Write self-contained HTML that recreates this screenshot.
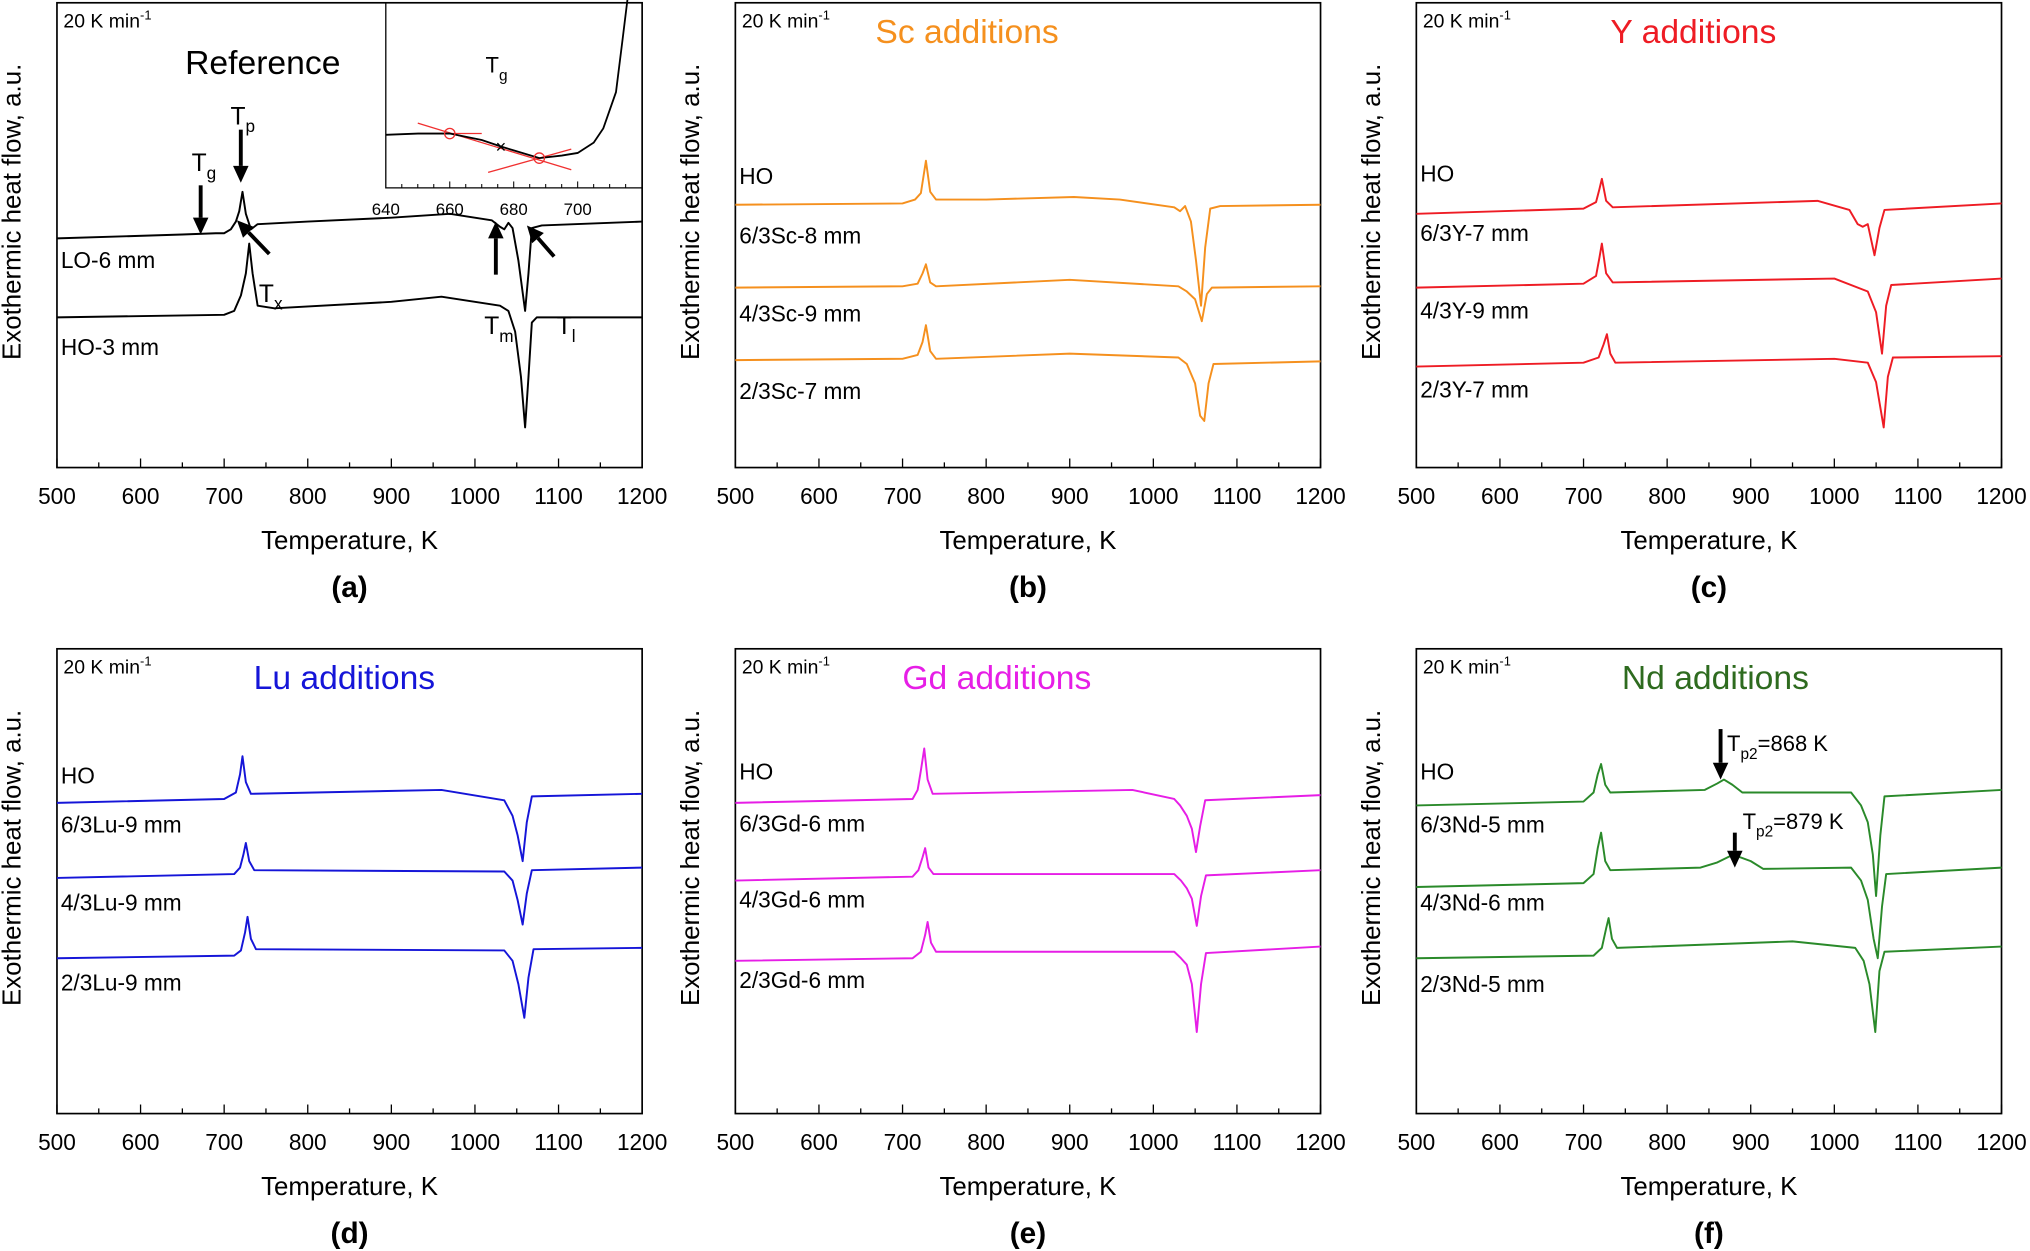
<!DOCTYPE html>
<html><head><meta charset="utf-8"><style>
html,body{margin:0;padding:0;background:#fff}
svg{display:block}
text{font-family:"Liberation Sans",sans-serif}
</style></head><body>
<svg id="fig" width="2030" height="1251" viewBox="0 0 1568 966" xmlns="http://www.w3.org/2000/svg"></svg>
<script>
// ---- data (temperature K, heat flow a.u. measured upward from frame bottom) ----
const xTicks = [500,600,700,800,900,1000,1100,1200];
const insetTicks = [640,660,680,700];

const aLO_T = [500,650,690,700,708,714,718,722,726,732,740,800,900,970,1020,1030,1035,1040,1045,1052,1060,1064,1068,1080,1200];
const aLO_V = [177,180,181,181,184,190,198,213,196,184,188,190,193,196,191,186,184,189,185,160,121,150,185,187,190];
const aHO_T = [500,700,712,720,726,730,734,740,760,900,960,1030,1040,1048,1055,1060,1064,1068,1074,1200];
const aHO_V = [116,118,121,133,150,173,150,125,123,128,132,125,121,105,70,31,70,112,116,116];
const inT = [640,650,660,670,676,680,688,695,700,705,708,712,714,716,718];
const inV = [57,58,58,53,48,45,39,41,43,51,62,90,130,170,210];

const bSeries = [
 {name:'HO', T:[500,700,715,722,728,733,740,800,905,960,1025,1032,1038,1045,1051,1057,1062,1068,1080,1200], V:[203,204,207,212,237,213,207,207,209,207,201,198,202,190,160,125,170,200,202,203]},
 {name:'6/3Sc-8 mm', T:[500,700,718,724,728,733,740,900,1030,1040,1050,1058,1064,1070,1200], V:[139,140,142,150,157,143,140,145,140,136,130,113,134,139,140]},
 {name:'4/3Sc-9 mm', T:[500,700,718,724,728,733,740,900,1030,1040,1050,1056,1061,1066,1072,1200], V:[83,84,87,97,110,90,84,88,85,80,65,40,36,65,80,82]}
];
const cSeries = [
 {name:'HO', T:[500,700,715,719,722,727,735,980,1018,1028,1034,1040,1048,1054,1060,1200], V:[196,200,205,215,223,206,201,206,199,188,186,188,164,185,199,204]},
 {name:'6/3Y-7 mm', T:[500,700,715,719,722,727,735,1000,1040,1050,1057,1062,1068,1200], V:[139,142,148,162,173,150,143,146,136,120,88,125,141,146]},
 {name:'2/3Y-7 mm', T:[500,700,718,724,728,732,738,1000,1040,1050,1059,1064,1070,1200], V:[78,81,85,95,103,88,81,84,81,66,31,70,85,86]}
];
const dSeries = [
 {name:'HO', T:[500,700,714,719,722,726,732,960,1035,1045,1051,1057,1062,1068,1200], V:[240,243,248,262,276,256,247,250,242,230,215,195,225,245,247]},
 {name:'6/3Lu-9 mm', T:[500,712,719,723,726,730,736,1035,1045,1051,1057,1062,1068,1200], V:[182,185,190,200,209,195,188,187,180,165,146,170,188,190]},
 {name:'2/3Lu-9 mm', T:[500,712,720,725,728,732,738,1035,1045,1052,1059,1064,1070,1200], V:[120,122,126,140,152,135,127,126,118,100,74,105,127,128]}
];
const eSeries = [
 {name:'HO', T:[500,712,718,722,726,730,736,975,1025,1032,1040,1046,1051,1056,1062,1200], V:[240,243,250,265,282,258,247,250,243,238,230,220,202,222,242,246]},
 {name:'6/3Gd-6 mm', T:[500,712,719,724,727,731,737,1025,1033,1040,1046,1052,1057,1063,1200], V:[180,183,188,198,205,190,185,185,180,174,166,145,168,184,188]},
 {name:'2/3Gd-6 mm', T:[500,712,722,727,730,734,740,1025,1033,1040,1046,1052,1057,1063,1200], V:[118,120,125,138,148,132,125,125,120,115,100,63,100,124,129]}
];
const fSeries = [
 {name:'HO', T:[500,700,712,717,721,726,732,845,860,868,878,890,1020,1032,1040,1046,1050,1055,1060,1200], V:[238,241,248,262,270,254,248,250,255,258,254,248,248,238,225,200,168,215,245,250]},
 {name:'6/3Nd-5 mm', T:[500,700,712,717,721,726,732,840,860,879,900,915,1020,1032,1040,1047,1052,1057,1062,1200], V:[175,178,185,205,217,195,188,190,194,200,195,189,190,180,165,135,120,160,185,190]},
 {name:'2/3Nd-5 mm', T:[500,712,722,727,730,734,740,950,1025,1035,1042,1049,1054,1060,1200], V:[120,122,128,143,151,135,128,133,128,118,100,63,110,125,129]}
];

// ---- drawing ----
const NS='http://www.w3.org/2000/svg';
const svg=document.getElementById('fig');
function mk(tag,attrs,parent){const e=document.createElementNS(NS,tag);for(const k in attrs)e.setAttribute(k,attrs[k]);(parent||svg).appendChild(e);return e;}
function txt(str,x,y,size,opt,parent){opt=opt||{};const t=mk('text',{x:x,y:y,'font-size':size,fill:opt.fill||'#000','text-anchor':opt.anchor||'start','font-weight':opt.bold?'bold':'normal'},parent);t.textContent=str;return t;}

function panel(px,py,letter,title,titleX,titleColor,seriesColor,series,labelYs,id){
  const W=452,H=359,x0=px,y0=py;
  const g=mk('g',{});
  
  
  const xs=t=>x0+(t-500)/700*W;
  const ys=v=>y0+H-v;
  const fr=mk('rect',{x:x0,y:y0,width:W,height:H,fill:'none',stroke:'#000','stroke-width':1.3},g);
  
  
  for(let t=500;t<=1200;t+=50){
    const l=mk('line',{x1:xs(t),x2:xs(t),y1:y0+H,y2:y0+H-(t%100===0?7:4),stroke:'#000','stroke-width':1},g);
    
    
  }
  xTicks.forEach(t=>{const e=txt(String(t),xs(t),y0+H+28,17.5,{anchor:'middle'},g);
    
    });
  const xl=txt('Temperature, K',x0+W/2,y0+H+63,20,{anchor:'middle'},g);
  
  
  const pl=txt('('+letter+')',x0+W/2,y0+H+100,23,{anchor:'middle',bold:true},g);
  
  
  const yl=txt('Exothermic heat flow, a.u.',0,0,20,{anchor:'middle'},g);
  yl.setAttribute('transform','translate('+(x0-28)+','+(y0+H/2-18)+') rotate(-90)');
  
  
  const rt=txt('20 K min',x0+5,y0+19,15,{},g);
  const sup=mk('tspan',{dy:-6,'font-size':10},rt);sup.textContent='-1';
  
  
  if(title){const tt=txt(title,titleX,y0+31,26,{anchor:'middle',fill:titleColor},g);
    
    }
  series.forEach((s,i)=>{
    const pts=s.T.map((t,j)=>xs(t).toFixed(1)+','+ys(s.V[j]).toFixed(1)).join(' ');
    const p=mk('polyline',{points:pts,fill:'none',stroke:seriesColor,'stroke-width':1.5,'stroke-linejoin':'round'},g);
    
    
  });
  labelYs.forEach(([str,yy])=>{const e=txt(str,x0+3,yy,17.5,{},g);
    
    });
  return {g,xs,ys};
}

function arrow(x1,y1,x2,y2,name){
  const g=mk('g',{});
  
  
  const dx=x2-x1,dy=y2-y1,L=Math.hypot(dx,dy),ux=dx/L,uy=dy/L,hl=13,hw=6;
  const bx=x2-ux*hl,by=y2-uy*hl;
  mk('line',{x1:x1,y1:y1,x2:bx,y2:by,stroke:'#000','stroke-width':3},g);
  mk('polygon',{points:`${x2},${y2} ${bx-uy*hw},${by+ux*hw} ${bx+uy*hw},${by-ux*hw}`,fill:'#000'},g);
}
function sublabel(main,sub,x,y,size,parent,extra){
  const t=txt(main,x,y,size,{},parent);
  const s=mk('tspan',{dy:6,'font-size':size*0.7},t);s.textContent=sub;
  if(extra){const e=mk('tspan',{dy:-6},t);e.textContent=extra;}
  
  
}

// panel a
panel(44,2,'a',null,0,null,'#000',[{name:'LO-6 mm',T:aLO_T,V:aLO_V},{name:'HO-3 mm',T:aHO_T,V:aHO_V}],[['LO-6 mm',207],['HO-3 mm',274]],'a');
const ref=txt('Reference',143,57,26,{});
arrow(155,143,155,181,'tg-arrow');arrow(186,100,186,141,'tp-arrow');arrow(208,196,183,170,'tx-arrow');
arrow(383,212,383,171,'tm-arrow');arrow(428,198,407,174,'tl-arrow');
sublabel('T','g',148,132,19);sublabel('T','p',178,96,19);sublabel('T','x',200,233,19);
sublabel('T','m',374,258,19);sublabel('T','l',430,258,19);
// inset
(function(){
  const g=mk('g',{});
  const ix=t=>298+(t-640)*2.47, iy=v=>161-v;
  mk('polyline',{points:'298,2 298,145 496,145',fill:'none',stroke:'#000','stroke-width':1},g);
  for(let t=645;t<=715;t+=5){mk('line',{x1:ix(t),x2:ix(t),y1:145,y2:t%20===0?140:142,stroke:'#000','stroke-width':0.8},g);}
  insetTicks.forEach(t=>{const e=txt(String(t),ix(t),166,13,{anchor:'middle'},g);
    });
  mk('line',{x1:ix(650),y1:iy(58),x2:ix(670),y2:iy(58),stroke:'#f03030','stroke-width':1},g);
  mk('line',{x1:ix(650),y1:iy(66),x2:ix(698),y2:iy(30),stroke:'#f03030','stroke-width':1},g);
  mk('line',{x1:ix(672),y1:iy(28),x2:ix(698),y2:iy(46),stroke:'#f03030','stroke-width':1},g);
  const c=mk('polyline',{points:inT.map((t,j)=>ix(t).toFixed(1)+','+iy(inV[j]).toFixed(1)).join(' '),fill:'none',stroke:'#000','stroke-width':1.4},g);
  
  mk('circle',{cx:ix(660),cy:iy(58),r:4,fill:'none',stroke:'#f03030','stroke-width':1},g);
  mk('circle',{cx:ix(688),cy:iy(39),r:4,fill:'none',stroke:'#f03030','stroke-width':1},g);
  txt('×',ix(676),iy(48)+5,14,{anchor:'middle'},g);
  sublabel('T','g',375,56,17,g);
})();

panel(568,2,'b','Sc additions',747,'#f5901e','#f5901e',bSeries,[['HO',142],['6/3Sc-8 mm',188],['4/3Sc-9 mm',248],['2/3Sc-7 mm',308]],'b');
panel(1094,2,'c','Y additions',1308,'#ee1c24','#ee1c24',cSeries,[['HO',140],['6/3Y-7 mm',186],['4/3Y-9 mm',246],['2/3Y-7 mm',307]],'c');
panel(44,501,'d','Lu additions',266,'#1515d8','#1515d8',dSeries,[['HO',605],['6/3Lu-9 mm',643],['4/3Lu-9 mm',703],['2/3Lu-9 mm',765]],'d');
panel(568,501,'e','Gd additions',770,'#e61ee6','#e61ee6',eSeries,[['HO',602],['6/3Gd-6 mm',642],['4/3Gd-6 mm',701],['2/3Gd-6 mm',763]],'e');
panel(1094,501,'f','Nd additions',1325,'#2e6b1f','#2a8a2a',fSeries,[['HO',602],['6/3Nd-5 mm',643],['4/3Nd-6 mm',703],['2/3Nd-5 mm',766]],'f');
arrow(1329,563,1329,602,'tp2-arrow-1');arrow(1340,643,1340,670,'tp2-arrow-2');
sublabel('T','p2',1334,580,17,null,'=868 K');sublabel('T','p2',1346,640,17,null,'=879 K');
</script>
</body></html>
